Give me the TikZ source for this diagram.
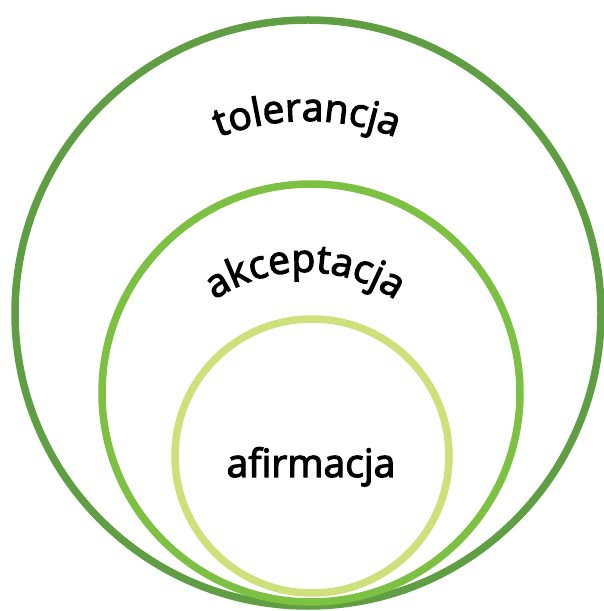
\documentclass[tikz,border=0pt]{standalone}
\usepackage{fontspec}
\setmainfont{Open Sans}
\newfontfamily\semifont{Open Sans}[FakeBold=3]
\usetikzlibrary{decorations.text}
\definecolor{outerg}{HTML}{5F9E43}
\definecolor{midg}{HTML}{7CC142}
\definecolor{innerg}{HTML}{CDE07A}
\begin{document}
\begin{tikzpicture}[x=1pt,y=1pt,
  ring/.style={line width=7.5pt},
  lbl/.style={font=\semifont\fontsize{39}{44}\selectfont}]
\useasboundingbox (0,0) rectangle (604,611);
\draw[ring,outerg] (308,298) circle[radius=293];
\draw[ring,midg] (311,218) circle[radius=209];
\draw[ring,innerg] (312,155) circle[radius=137];
\path[decorate,decoration={text along path,text align=center,
  text={|\semifont\fontsize{39}{44}\selectfont|tolerancja}}]
  (307,240) ++(150:250) arc[start angle=150,end angle=30,radius=250];
\path[decorate,decoration={text along path,text align=center,
  text={|\semifont\fontsize{39}{44}\selectfont|akceptacja}}]
  (305,179) ++(155:160) arc[start angle=155,end angle=25,radius=160];
\node[lbl,anchor=base] (afi) at (311,134) {afirmacja};
\end{tikzpicture}
\end{document}
